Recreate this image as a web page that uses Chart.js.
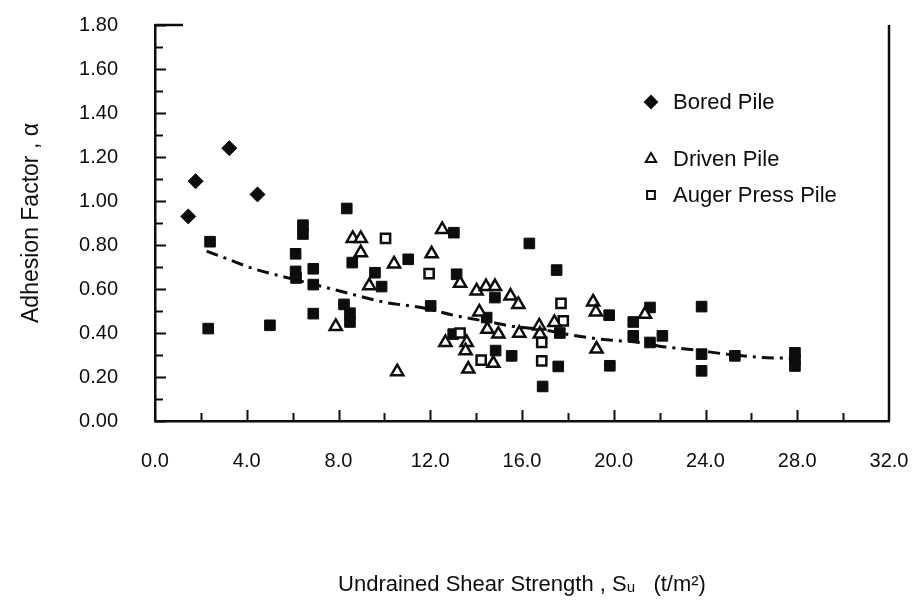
<!DOCTYPE html>
<html>
<head>
<meta charset="utf-8">
<title>Adhesion Factor vs Undrained Shear Strength</title>
<script src="https://cdn.jsdelivr.net/npm/chart.js@4.4.1/dist/chart.umd.min.js"></script>
<style>
  html, body { margin: 0; padding: 0; background: #ffffff; }
  #wrap { width: 921px; height: 605px; }
</style>
</head>
<body>
<div id="wrap"><canvas id="chart" width="921" height="605"></canvas></div>
<script>
// Bored piles
const boredSu    = [1.45, 1.77, 3.24, 4.47];
const boredAlpha = [0.93, 1.09, 1.24, 1.03];

// Driven piles
const drivenSu    = [7.88, 8.62, 8.97, 8.97, 9.34, 10.42, 10.56, 12.06, 12.52, 13.30,
                     12.66, 13.59, 13.54, 13.66, 14.02, 14.43, 14.82, 14.14, 14.49, 14.75,
                     14.97, 15.50, 15.84, 15.88, 16.75, 16.78, 17.41, 19.10, 19.22, 19.25, 21.36];
const drivenAlpha = [0.43, 0.83, 0.83, 0.765, 0.615, 0.714, 0.224, 0.76, 0.871, 0.626,
                     0.357, 0.357, 0.319, 0.236, 0.591, 0.611, 0.611, 0.496, 0.417, 0.262,
                     0.395, 0.568, 0.53, 0.399, 0.432, 0.395, 0.448, 0.541, 0.496, 0.327, 0.485];

// Auger press piles
const augerSu    = [10.05, 11.95, 13.30, 14.22, 16.86, 16.86, 17.70, 17.80];
const augerAlpha = [0.83, 0.67, 0.40, 0.277, 0.357, 0.273, 0.535, 0.455];

// Other test piles (filled squares)
const otherSu    = [2.40, 2.32, 5.01, 6.45, 6.45, 6.13, 6.13, 6.15, 6.90, 6.90,
                    6.90, 8.36, 8.60, 8.24, 8.50, 8.50, 9.59, 9.88, 11.04, 12.02,
                    13.03, 13.15, 13.00, 14.46, 14.82, 14.85, 15.55, 16.32, 17.51, 17.65,
                    17.58, 16.90, 19.80, 19.83, 20.85, 21.58, 20.85, 21.58, 22.12, 23.83,
                    23.83, 23.83, 25.28, 27.90, 27.90, 27.90];
const otherAlpha = [0.815, 0.42, 0.435, 0.89, 0.85, 0.76, 0.68, 0.65, 0.692, 0.62,
                    0.488, 0.966, 0.72, 0.53, 0.49, 0.45, 0.674, 0.611, 0.735, 0.523,
                    0.856, 0.667, 0.395, 0.47, 0.561, 0.32, 0.296, 0.807, 0.686, 0.40,
                    0.248, 0.157, 0.481, 0.251, 0.45, 0.516, 0.387, 0.357, 0.387, 0.52,
                    0.304, 0.228, 0.296, 0.31, 0.28, 0.25];

// Fitted trend
const trendSu    = [2.25, 3.1, 4.3, 5.6, 7.3, 8.6, 10.1, 11.6, 13.0, 14.7,
                    15.5, 16.8, 18.2, 19.7, 21.1, 22.0, 23.5, 24.9, 26.4, 27.7];
const trendAlpha = [0.772, 0.739, 0.692, 0.656, 0.611, 0.576, 0.538, 0.516, 0.481, 0.448,
                    0.432, 0.417, 0.39, 0.369, 0.357, 0.34, 0.323, 0.304, 0.289, 0.285];

// Axis tick labels
const xTickLabels = ['0.0', '4.0', '8.0', '12.0', '16.0', '20.0', '24.0', '28.0', '32.0'];
const yTickLabels = ['0.00', '0.20', '0.40', '0.60', '0.80', '1.00', '1.20', '1.40', '1.60', '1.80'];

const FONT = "'Liberation Sans', Arial, 'DejaVu Sans', sans-serif";
const INK = '#0d0d0d';

const pairs = (xs, ys) => xs.map((x, i) => ({ x: x, y: ys[i] }));

// Inward tick marks, right frame line and top stub
const frameTicks = {
  id: 'frameTicks',
  afterDatasetsDraw(chart) {
    const { ctx, chartArea: a, scales: { x, y } } = chart;
    ctx.save();
    ctx.strokeStyle = INK;
    ctx.lineWidth = 2;
    ctx.beginPath();
    for (let i = 0; i <= 18; i++) {
      const py = Math.round(y.getPixelForValue(i / 10)) + 0.5;
      const len = i % 2 === 0 ? 11 : 8;
      ctx.moveTo(a.left, py);
      ctx.lineTo(a.left + len, py);
    }
    for (let v = 2; v < 32; v += 2) {
      const px = Math.round(x.getPixelForValue(v)) + 0.5;
      const len = v % 4 === 0 ? 11 : 8;
      ctx.moveTo(px, a.bottom);
      ctx.lineTo(px, a.bottom - len);
    }
    ctx.stroke();
    ctx.lineWidth = 2.5;
    ctx.beginPath();
    ctx.moveTo(a.right, a.top);
    ctx.lineTo(a.right, a.bottom);
    ctx.moveTo(a.left, a.top);
    ctx.lineTo(a.left + 28, a.top);
    ctx.stroke();
    ctx.restore();
  }
};

// Legend block inside the plot, upper right
const insetLegend = {
  id: 'insetLegend',
  afterDraw(chart) {
    const { ctx, chartArea: a } = chart;
    const rows = [
      { ds: 0, dy: 77, r: 6 },
      { ds: 1, dy: 134, r: 6 },
      { ds: 2, dy: 170, r: 5.5 }
    ];
    const symX = a.right - 238;
    ctx.save();
    rows.forEach(row => {
      const d = chart.data.datasets[row.ds];
      const yy = a.top + row.dy;
      ctx.fillStyle = d.pointBackgroundColor;
      ctx.strokeStyle = d.pointBorderColor;
      ctx.lineWidth = 2;
      Chart.helpers.drawPoint(ctx, { pointStyle: d.pointStyle, radius: row.r, rotation: 0, borderWidth: 2 }, symX, yy);
      ctx.fillStyle = INK;
      ctx.font = '22px ' + FONT;
      ctx.textBaseline = 'middle';
      ctx.textAlign = 'left';
      ctx.fillText(d.label, symX + 22, yy + 1);
    });
    ctx.restore();
  }
};

new Chart(document.getElementById('chart'), {
  type: 'scatter',
  data: {
    datasets: [
      {
        label: 'Bored Pile',
        data: pairs(boredSu, boredAlpha),
        pointStyle: 'rectRot',
        pointRadius: 7.5,
        pointBackgroundColor: INK,
        pointBorderColor: INK,
        pointBorderWidth: 1,
        order: 2
      },
      {
        label: 'Driven Pile',
        data: pairs(drivenSu, drivenAlpha),
        pointStyle: 'triangle',
        pointRadius: 7,
        pointBackgroundColor: '#ffffff',
        pointBorderColor: INK,
        pointBorderWidth: 2.5,
        order: 2
      },
      {
        label: 'Auger Press Pile',
        data: pairs(augerSu, augerAlpha),
        pointStyle: 'rect',
        pointRadius: 6.5,
        pointBackgroundColor: '#ffffff',
        pointBorderColor: INK,
        pointBorderWidth: 2.5,
        order: 2
      },
      {
        label: 'Other Piles',
        data: pairs(otherSu, otherAlpha),
        pointStyle: 'rect',
        pointRadius: 7.5,
        pointBackgroundColor: INK,
        pointBorderColor: INK,
        pointBorderWidth: 1,
        order: 3
      },
      {
        label: 'Trend',
        data: pairs(trendSu, trendAlpha),
        showLine: true,
        fill: false,
        borderColor: INK,
        borderWidth: 3,
        borderDash: [12, 6, 3, 6],
        cubicInterpolationMode: 'monotone',
        pointRadius: 0,
        pointHoverRadius: 0,
        order: 1
      }
    ]
  },
  options: {
    responsive: false,
    animation: false,
    devicePixelRatio: 1,
    layout: { padding: { top: 25, right: 32, left: 0, bottom: 0 } },
    plugins: {
      legend: { display: false },
      tooltip: { enabled: false }
    },
    scales: {
      x: {
        type: 'linear',
        min: 0,
        max: 32,
        grid: { display: false, drawTicks: false },
        border: { display: true, color: INK, width: 2.5 },
        ticks: {
          stepSize: 4,
          padding: 28,
          color: INK,
          font: { family: FONT, size: 20 },
          maxRotation: 0,
          callback: v => xTickLabels[Math.round(v / 4)]
        },
        title: {
          display: true,
          text: 'Undrained Shear Strength , Sᵤ   (t/m²)',
          color: INK,
          font: { family: FONT, size: 22 },
          padding: { top: 7, bottom: 7 }
        },
        afterFit(scale) {
          scale.height = 184;
          scale.paddingLeft = 0;
          scale.paddingRight = 0;
        }
      },
      y: {
        type: 'linear',
        min: 0,
        max: 1.8,
        grid: { display: false, drawTicks: false },
        border: { display: true, color: INK, width: 2.5 },
        ticks: {
          stepSize: 0.2,
          padding: 37,
          color: INK,
          font: { family: FONT, size: 20 },
          callback: v => yTickLabels[Math.round(v / 0.2)]
        },
        title: {
          display: true,
          text: 'Adhesion Factor , α',
          color: INK,
          font: { family: FONT, size: 23 },
          padding: { top: 18, bottom: 18 }
        },
        afterFit(scale) {
          scale.width = 155;
          scale.paddingTop = 0;
          scale.paddingBottom = 0;
        }
      }
    }
  },
  plugins: [frameTicks, insetLegend]
});
</script>
</body>
</html>
